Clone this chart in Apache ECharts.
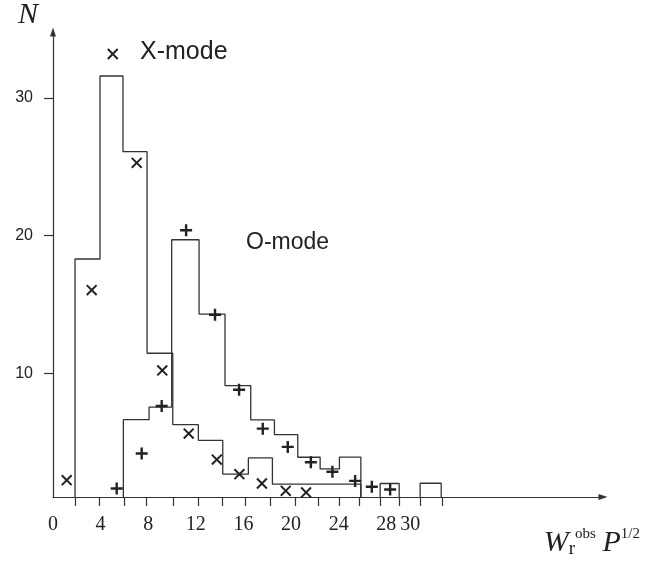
<!DOCTYPE html>
<html>
<head>
<meta charset="utf-8">
<script src="https://cdn.jsdelivr.net/npm/echarts@6/dist/echarts.min.js"></script>
<style>
  html, body { margin: 0; padding: 0; background: #fff; }
  #chart { width: 671px; height: 563px; }
</style>
</head>
<body>
<div id="chart"></div>
<script>
// histogram bin edges and counts
const xModeEdges = [1.85, 3.95, 5.88, 7.90, 10.06, 12.21, 14.26, 16.41, 18.43, 25.86];
const xModeCounts = [18.3, 31.6, 26.1, 11.45, 6.26, 5.12, 2.66, 3.84, 1.93];
const oModeEdges = [5.91, 8.07, 9.97, 12.27, 14.45, 16.61, 18.6, 20.56, 22.44, 24.06, 25.86];
const oModeCounts = [6.62, 7.54, 19.7, 14.3, 9.1, 6.6, 5.53, 3.89, 3.04, 3.9];
const tailEdges = [[27.48, 29.08], [30.84, 32.61]];
const tailCounts = [1.98, 2.0];

// model points
const xModePoints = [[1.15, 2.22], [3.25, 16.04], [5.02, 33.2], [7.03, 25.29], [9.18, 10.2],
  [11.4, 5.61], [13.76, 3.72], [15.66, 2.66], [17.55, 1.98], [19.55, 1.45], [21.26, 1.33]];
const oModePoints = [[5.35, 1.62], [7.45, 4.16], [9.13, 7.61], [11.18, 20.39], [13.61, 14.25],
  [15.63, 8.8], [17.62, 5.97], [19.72, 4.64], [21.66, 3.53], [23.47, 2.83], [25.38, 2.17],
  [26.78, 1.74], [28.32, 1.55]];

// axis ticks and labels
const xTicks = [1.85, 3.87, 5.97, 7.82, 10.06, 12.16, 14.18, 16.16, 18.26, 20.36, 22.29,
  24.03, 25.74, 27.48, 29.08, 30.84, 32.69];
const xLabels = [0, 4, 8, 12, 16, 20, 24, 28, 30];
const yLabels = [10, 20, 30];

const BASE = 1;

function steps(edges, counts) {
  const pts = [[edges[0], BASE]];
  counts.forEach((c, i) => {
    pts.push([edges[i], c], [edges[i + 1], c]);
  });
  pts.push([edges[edges.length - 1], BASE]);
  return pts;
}

let oLine = steps(oModeEdges, oModeCounts);
tailEdges.forEach((e, i) => {
  oLine.push([e[0], null]);
  oLine = oLine.concat(steps(e, [tailCounts[i]]));
});

const crossPath = 'path://M6,0h2v14h-2zM0,6h14v2h-14z';
const plusPath = 'path://M4.8,0h2.4v12h-2.4zM0,4.8h12v2.4h-12z';

const ink = '#222';
const chart = echarts.init(document.getElementById('chart'), null, { renderer: 'canvas' });

chart.setOption({
  animation: false,
  backgroundColor: '#fff',
  grid: { left: 53, right: 68, top: 31, bottom: 66 },
  xAxis: {
    type: 'value',
    min: 0,
    max: 46.2,
    name: '{w|W}{r|r}{o|obs}  {p|P}{h|1/2}',
    nameLocation: 'end',
    nameGap: 37,
    nameTextStyle: {
      align: 'right',
      verticalAlign: 'top',
      padding: [30, 0, 0, 0],
      rich: {
        w: { fontFamily: 'Liberation Serif', fontStyle: 'italic', fontSize: 30, color: ink, lineHeight: 32 },
        r: { fontFamily: 'Liberation Serif', fontSize: 19, color: ink, verticalAlign: 'bottom', lineHeight: 24 },
        o: { fontFamily: 'Liberation Serif', fontSize: 15, color: ink, verticalAlign: 'top', lineHeight: 18 },
        p: { fontFamily: 'Liberation Serif', fontStyle: 'italic', fontSize: 30, color: ink, lineHeight: 32 },
        h: { fontFamily: 'Liberation Serif', fontSize: 15, color: ink, verticalAlign: 'top', lineHeight: 18 }
      }
    },
    axisLine: {
      onZero: false,
      symbol: ['none', 'triangle'],
      symbolSize: [6, 9],
      lineStyle: { color: '#333', width: 1.2 }
    },
    axisTick: {
      customValues: xTicks,
      length: 9,
      lineStyle: { color: '#333', width: 1.2 }
    },
    axisLabel: {
      customValues: xLabels,
      margin: 18,
      fontFamily: 'Liberation Serif',
      fontSize: 20,
      color: ink
    },
    splitLine: { show: false }
  },
  yAxis: {
    type: 'value',
    min: BASE,
    max: 34.8,
    name: 'N',
    nameLocation: 'end',
    nameGap: 2,
    nameTextStyle: {
      fontFamily: 'Liberation Serif',
      fontStyle: 'italic',
      fontSize: 30,
      color: ink,
      align: 'right',
      verticalAlign: 'bottom',
      padding: [0, 15, 0, 0]
    },
    axisLine: {
      onZero: false,
      symbol: ['none', 'triangle'],
      symbolSize: [6, 9],
      lineStyle: { color: '#333', width: 1.2 }
    },
    axisTick: {
      customValues: yLabels,
      length: 9,
      lineStyle: { color: '#333', width: 1.2 }
    },
    axisLabel: {
      customValues: yLabels,
      margin: 20,
      fontFamily: 'Liberation Sans',
      fontSize: 16,
      color: ink
    },
    splitLine: { show: false }
  },
  graphic: [
    {
      type: 'text', left: 140, top: 40,
      style: { text: 'X-mode', fontFamily: 'Liberation Sans', fontSize: 25, fill: ink }
    },
    {
      type: 'text', left: 246, top: 231,
      style: { text: 'O-mode', fontFamily: 'Liberation Sans', fontSize: 23, fill: ink }
    }
  ],
  series: [
    {
      name: 'X-mode histogram',
      type: 'line',
      data: steps(xModeEdges, xModeCounts),
      showSymbol: false,
      symbol: 'none',
      lineStyle: { color: '#333', width: 1.3 },
      z: 2
    },
    {
      name: 'O-mode histogram',
      type: 'line',
      data: oLine,
      connectNulls: false,
      showSymbol: false,
      symbol: 'none',
      lineStyle: { color: '#333', width: 1.3 },
      z: 2
    },
    {
      name: 'X-mode',
      type: 'scatter',
      data: xModePoints,
      symbol: crossPath,
      symbolSize: 14,
      symbolRotate: 45,
      itemStyle: { color: ink, opacity: 1 },
      z: 3
    },
    {
      name: 'O-mode',
      type: 'scatter',
      data: oModePoints,
      symbol: plusPath,
      symbolSize: 12,
      itemStyle: { color: ink, opacity: 1 },
      z: 3
    }
  ]
});
</script>
</body>
</html>
